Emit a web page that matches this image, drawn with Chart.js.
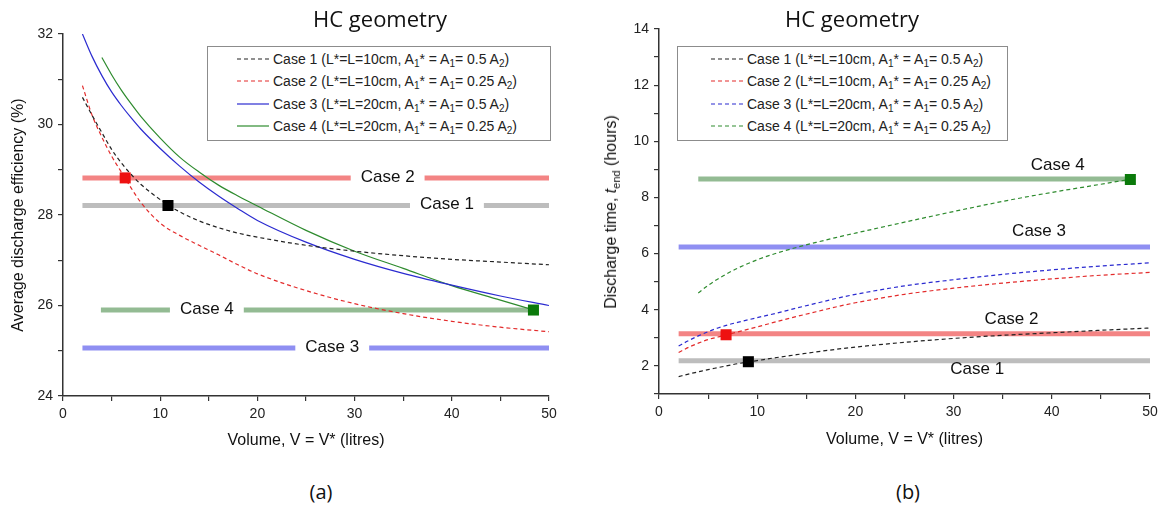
<!DOCTYPE html>
<html>
<head>
<meta charset="utf-8">
<title>HC geometry</title>
<script src="https://cdn.jsdelivr.net/npm/chart.js@4.4.0/dist/chart.umd.min.js"></script>
<style>
  html, body { margin: 0; padding: 0; background: #fff; }
  body { position: relative; width: 1164px; height: 506px; overflow: hidden; font-family: "Liberation Sans", Arial, sans-serif; color: #111; }
  .panel { position: absolute; top: 0; width: 582px; height: 460px; }
  #panelA { left: 0; }
  #panelB { left: 582px; }
  .heading { position: absolute; transform: translateX(-50%); white-space: nowrap; font-family: "Open Sans", sans-serif; color: #111; }
  .heading.title { top: 3px; font-size: 22px; line-height: 30px; }
  .heading.tag { top: 478px; font-size: 20px; line-height: 28px; }
  .legend { position: absolute; top: 46px; height: 95px; box-sizing: border-box; border: 1px solid #8c8c8c; background: #fff; }
  .legend .row { position: absolute; height: 22px; line-height: 22px; font-size: 14px; color: #222; white-space: nowrap; }
  .legend .row sub { font-size: 10px; vertical-align: -3px; line-height: 0; }
  .legend svg { position: absolute; }
  #yTitleB { position: absolute; left: 611px; top: 212px; transform: translate(-50%, -50%) rotate(-90deg); white-space: nowrap; font-size: 16px; color: #111; }
  #yTitleB sub { font-size: 11px; vertical-align: -4px; line-height: 0; }
</style>
</head>
<body>
<div class="panel" id="panelA"><canvas id="chartA" width="582" height="460"></canvas></div>
<div class="panel" id="panelB"><canvas id="chartB" width="582" height="460"></canvas></div>
<div class="heading title" style="left:380px">HC geometry</div>
<div class="heading title" style="left:852px">HC geometry</div>
<div class="heading tag" style="left:321px">(a)</div>
<div class="heading tag" style="left:908px">(b)</div>
<div id="yTitleB">Discharge time, <i>t</i><sub>end</sub> (hours)</div>
<div class="legend" id="legendA" style="left:207px; width:344px"></div>
<div class="legend" id="legendB" style="left:677px; width:331px"></div>

<script>
// shared volume grid (litres)
const volumes = [2, 3, 4, 5, 6, 7, 8, 10, 12, 14, 16, 18, 20, 25, 30, 35, 40, 45, 50];
const volumesCase4A = [4, 5, 6, 7, 8, 10, 12, 14, 16, 18, 20, 25, 30, 35, 40, 45, 48.4];
const volumesCase4B = [4, 5, 6, 7, 8, 10, 12, 14, 16, 18, 20, 25, 30, 35, 40, 45, 48];

// (a) average discharge efficiency (%)
const effCase1 = [30.6, 30.2, 29.82, 29.45, 29.15, 28.9, 28.68, 28.34, 28.07, 27.87, 27.72, 27.6, 27.51, 27.33, 27.2, 27.1, 27.02, 26.96, 26.9];
const effCase2 = [30.86, 30.2, 29.72, 29.3, 28.95, 28.6, 28.28, 27.82, 27.55, 27.33, 27.12, 26.9, 26.7, 26.33, 26.04, 25.82, 25.65, 25.52, 25.42];
const effCase3 = [32.0, 31.5, 31.08, 30.72, 30.42, 30.15, 29.9, 29.47, 29.08, 28.73, 28.42, 28.14, 27.88, 27.4, 27.02, 26.71, 26.45, 26.21, 26.0];
const effCase4 = [31.48, 31.1, 30.76, 30.46, 30.18, 29.7, 29.28, 28.95, 28.66, 28.42, 28.2, 27.66, 27.2, 26.82, 26.44, 26.12, 25.9];

// (b) discharge time t_end (hours)
const timeCase1 = [1.62, 1.71, 1.79, 1.87, 1.94, 2.01, 2.08, 2.19, 2.3, 2.4, 2.5, 2.59, 2.67, 2.84, 2.98, 3.09, 3.18, 3.27, 3.35];
const timeCase2 = [2.48, 2.66, 2.81, 2.94, 3.03, 3.12, 3.21, 3.39, 3.58, 3.76, 3.93, 4.1, 4.25, 4.55, 4.77, 4.95, 5.1, 5.23, 5.33];
const timeCase3 = [2.71, 2.9, 3.07, 3.22, 3.35, 3.46, 3.55, 3.72, 3.88, 4.06, 4.23, 4.4, 4.55, 4.85, 5.07, 5.26, 5.42, 5.56, 5.67];
const timeCase4 = [4.6, 4.87, 5.1, 5.3, 5.48, 5.78, 6.02, 6.22, 6.4, 6.57, 6.73, 7.12, 7.5, 7.86, 8.18, 8.47, 8.65];

// reference levels of the matched designs (the thick bands)
const caseNames = ["Case 1", "Case 2", "Case 3", "Case 4"];
const bandLevelA = [28.21, 28.82, 25.06, 25.9];
const bandFromA = [2, 2, 2, 3.9];
const bandToA = [50, 50, 50, 48.5];
const labelVolA = [39.5, 33.4, 27.7, 14.8];
const bandLevelB = [2.18, 3.15, 6.24, 8.66];
const bandFromB = [2, 2, 2, 4];
const bandToB = [50, 50, 50, 48];
const labelVolB = [32.4, 35.9, 38.7, 40.6];
const labelLevelB = [1.83, 3.64, 6.75, 9.12];

// matching points (squares)
const markVolA = [10.8, 6.4, 48.4];
const markEffA = [28.21, 28.82, 25.9];
const markVolB = [9.1, 6.83, 48];
const markTimeB = [2.15, 3.11, 8.64];
const markColors = ["#000000", "#ee1111", "#0b7a0b"];

const legendText = [
  "Case 1 (L*=L=10cm, A<sub>1</sub>* = A<sub>1</sub>= 0.5 A<sub>2</sub>)",
  "Case 2 (L*=L=10cm, A<sub>1</sub>* = A<sub>1</sub>= 0.25 A<sub>2</sub>)",
  "Case 3 (L*=L=20cm, A<sub>1</sub>* = A<sub>1</sub>= 0.5 A<sub>2</sub>)",
  "Case 4 (L*=L=20cm, A<sub>1</sub>* = A<sub>1</sub>= 0.25 A<sub>2</sub>)"
];

const lineColors = ["#222222", "#e32b2b", "#2b2bd0", "#2e8b2e"];
const bandColors = ["#bdbdbd", "#f38484", "#8f8ff2", "#93bb93"];
const FONT = '"Liberation Sans", Arial, sans-serif';

function pts(xs, ys) {
  return xs.map((x, i) => ({ x: x, y: ys[i] }));
}

const bandLabels = {
  id: "bandLabels",
  afterDatasetsDraw(chart, args, opts) {
    const { ctx, scales: { x, y } } = chart;
    ctx.save();
    ctx.font = "17px " + FONT;
    ctx.textAlign = "center";
    ctx.textBaseline = "middle";
    caseNames.forEach((name, i) => {
      const px = x.getPixelForValue(opts.xs[i]);
      const py = y.getPixelForValue(opts.ys[i]);
      if (opts.knockout) {
        const w = ctx.measureText(name).width + 20;
        ctx.fillStyle = "#fff";
        ctx.fillRect(px - w / 2, py - 4, w, 8);
      }
      ctx.fillStyle = "#111";
      ctx.fillText(name, px, py - 1);
    });
    ctx.restore();
  }
};

function buildDatasets(curveXs, curveYs, dashes, bandLevel, bandFrom, bandTo, markX, markY) {
  const sets = [];
  markX.forEach((x, i) => {
    sets.push({
      data: [{ x: x, y: markY[i] }],
      pointStyle: "rect",
      pointRadius: 7.8,
      backgroundColor: markColors[i],
      borderColor: markColors[i],
      borderWidth: 0,
      showLine: false,
      order: 0
    });
  });
  curveYs.forEach((ys, i) => {
    sets.push({
      data: pts(curveXs[i], ys),
      showLine: true,
      borderColor: lineColors[i],
      borderWidth: 1.2,
      borderDash: dashes[i],
      pointRadius: 0,
      cubicInterpolationMode: "monotone",
      order: 1
    });
  });
  bandLevel.forEach((lvl, i) => {
    sets.push({
      data: [{ x: bandFrom[i], y: lvl }, { x: bandTo[i], y: lvl }],
      showLine: true,
      borderColor: bandColors[i],
      borderWidth: 5,
      borderCapStyle: "butt",
      pointRadius: 0,
      order: 2
    });
  });
  return sets;
}

function axis(min, max, step, every, extra) {
  return Object.assign({
    type: "linear",
    min: min,
    max: max,
    border: { display: true, color: "#333", width: 1.5 },
    grid: { display: true, drawOnChartArea: false, drawTicks: true, tickLength: 5, color: "#333", lineWidth: 1.2 },
    ticks: {
      stepSize: step,
      autoSkip: false,
      color: "#222",
      font: { family: FONT, size: 14 },
      padding: 5,
      callback: (v) => (Math.round(v) % every === 0 ? v : "")
    }
  }, extra || {});
}

function makeChart(id, cfg) {
  return new Chart(document.getElementById(id), {
    type: "scatter",
    data: { datasets: cfg.datasets },
    options: {
      responsive: false,
      animation: false,
      devicePixelRatio: 1,
      layout: { padding: cfg.padding },
      plugins: {
        legend: { display: false },
        tooltip: { enabled: false },
        bandLabels: cfg.labels
      },
      scales: {
        x: axis(0, 50, 5, 10, {
          afterFit: (s) => { s.height = 60; },
          title: { display: true, text: "Volume, V = V* (litres)", color: "#111", font: { family: FONT, size: 16 }, padding: { top: 0, bottom: cfg.xTitlePad } }
        }),
        y: axis(cfg.yMin, cfg.yMax, 1, 2, {
          afterFit: (s) => { s.width = cfg.yWidth; },
          title: cfg.yTitle
        })
      }
    },
    plugins: [bandLabels]
  });
}

function buildLegend(id, dashes, lineX, textX) {
  const box = document.getElementById(id);
  legendText.forEach((txt, i) => {
    const top = 1 + i * 22.3;
    const svg = document.createElementNS("http://www.w3.org/2000/svg", "svg");
    svg.setAttribute("width", "32");
    svg.setAttribute("height", "4");
    svg.style.left = lineX + "px";
    svg.style.top = (top + 9) + "px";
    const ln = document.createElementNS("http://www.w3.org/2000/svg", "line");
    ln.setAttribute("x1", "0"); ln.setAttribute("y1", "2");
    ln.setAttribute("x2", "32"); ln.setAttribute("y2", "2");
    ln.setAttribute("stroke", lineColors[i]);
    ln.setAttribute("stroke-width", "1.2");
    if (dashes[i].length) ln.setAttribute("stroke-dasharray", dashes[i].join(" "));
    svg.appendChild(ln);
    box.appendChild(svg);
    const row = document.createElement("div");
    row.className = "row";
    row.style.left = textX + "px";
    row.style.top = top + "px";
    row.innerHTML = txt;
    box.appendChild(row);
  });
}

const dashesA = [[4, 3], [4, 3], [], []];
const dashesB = [[4, 3], [4, 3], [4, 3], [4, 3]];

makeChart("chartA", {
  datasets: buildDatasets(
    [volumes, volumes, volumes, volumesCase4A],
    [effCase1, effCase2, effCase3, effCase4],
    dashesA, bandLevelA, bandFromA, bandToA, markVolA, markEffA),
  padding: { left: 0, right: 33, top: 34, bottom: 4 },
  yMin: 24, yMax: 32, yWidth: 63, xTitlePad: 6,
  yTitle: { display: true, text: "Average discharge efficiency (%)", color: "#111", font: { family: FONT, size: 16 }, padding: { top: 9, bottom: 0 } },
  labels: { xs: labelVolA, ys: bandLevelA, knockout: true }
});

makeChart("chartB", {
  datasets: buildDatasets(
    [volumes, volumes, volumes, volumesCase4B],
    [timeCase1, timeCase2, timeCase3, timeCase4],
    dashesB, bandLevelB, bandFromB, bandToB, markVolB, markTimeB),
  padding: { left: 0, right: 14, top: 29, bottom: 6 },
  yMin: 1, yMax: 14, yWidth: 77, xTitlePad: 5,
  yTitle: { display: false },
  labels: { xs: labelVolB, ys: labelLevelB, knockout: false }
});

buildLegend("legendA", dashesA, 29, 65);
buildLegend("legendB", dashesB, 33, 69);
</script>
</body>
</html>
